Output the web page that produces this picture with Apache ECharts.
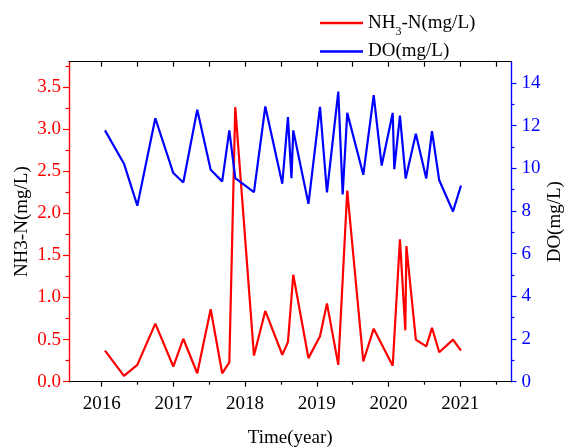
<!DOCTYPE html>
<html>
<head>
<meta charset="utf-8">
<script src="https://cdn.jsdelivr.net/npm/echarts@6/dist/echarts.min.js"></script>
<style>
  html, body { margin: 0; padding: 0; background: #fff; }
  #main { width: 564px; height: 447px; }
</style>
</head>
<body>
<div id="main"></div>
<script>
// 时间（年，小数表示）
const nh3Time = [2016.046, 2016.311, 2016.497, 2016.748, 2016.999, 2017.138, 2017.333, 2017.520, 2017.681, 2017.780,
  2017.863, 2018.124, 2018.282, 2018.519, 2018.598, 2018.672, 2018.884, 2019.045, 2019.142, 2019.300,
  2019.425, 2019.649, 2019.794, 2020.059, 2020.160, 2020.235, 2020.250, 2020.382, 2020.527, 2020.607,
  2020.708, 2020.900, 2021.011]
const nh3Values = [0.37, 0.07, 0.20, 0.69, 0.18, 0.51, 0.10, 0.86, 0.10, 0.23,
  3.26, 0.31, 0.84, 0.32, 0.47, 1.27, 0.28, 0.54, 0.93, 0.20,
  2.27, 0.24, 0.63, 0.19, 1.69, 0.61, 1.61, 0.50, 0.42, 0.64,
  0.35, 0.50, 0.37]

const doTime = [2016.046, 2016.311, 2016.497, 2016.748, 2016.999, 2017.138, 2017.333, 2017.520, 2017.681, 2017.780,
  2017.863, 2018.124, 2018.282, 2018.519, 2018.598, 2018.647, 2018.672, 2018.884, 2019.045, 2019.142,
  2019.300, 2019.361, 2019.425, 2019.649, 2019.794, 2019.905, 2020.059, 2020.081, 2020.160, 2020.240,
  2020.382, 2020.527, 2020.607, 2020.708, 2020.900, 2021.011]
const doValues = [11.78, 10.22, 8.25, 12.35, 9.78, 9.34, 12.75, 9.94, 9.39, 11.78,
  9.54, 8.89, 12.90, 9.28, 12.40, 9.54, 11.78, 8.34, 12.88, 8.87,
  13.60, 8.78, 12.60, 9.70, 13.43, 10.13, 12.60, 9.96, 12.47, 9.52,
  11.62, 9.52, 11.74, 9.44, 7.98, 9.19]

// 刻度
const yearLabels = [2016, 2017, 2018, 2019, 2020, 2021]
const halfYearTicks = [2016.5, 2017.5, 2018.5, 2019.5, 2020.5, 2021.5]
const allHalfTicks = [2016, 2016.5, 2017, 2017.5, 2018, 2018.5, 2019, 2019.5, 2020, 2020.5, 2021, 2021.5]
const leftMajor = [0, 0.5, 1, 1.5, 2, 2.5, 3, 3.5]
const leftMinor = [0.25, 0.75, 1.25, 1.75, 2.25, 2.75, 3.25, 3.75]
const rightMajor = [0, 2, 4, 6, 8, 10, 12, 14]
const rightMinor = [1, 3, 5, 7, 9, 11, 13]

const font = 'Liberation Serif'
const xMin = 2015.544
const xMax = 2021.716

const myChart = echarts.init(document.getElementById('main'))

const option = {
  animation: false,
  textStyle: { fontFamily: font },
  grid: { left: 69, right: 52.5, top: 61.7, bottom: 65.3, outerBoundsMode: 'none', containLabel: false },
  legend: {
    orient: 'vertical',
    left: 320,
    top: 12,
    padding: 0,
    itemWidth: 43,
    itemHeight: 2.5,
    itemGap: 2.5,
    icon: 'rect',
    data: ['NH3-N(mg/L)', 'DO(mg/L)'],
    formatter: function (name) {
      if (name === 'NH3-N(mg/L)') return '{a|NH}{s|3}{a|-N(mg/L)}'
      return '{a|' + name + '}'
    },
    textStyle: {
      color: '#000',
      fontFamily: font,
      fontSize: 19,
      lineHeight: 22,
      rich: {
        a: { fontFamily: font, fontSize: 19, lineHeight: 22, color: '#000' },
        s: { fontFamily: font, fontSize: 12, lineHeight: 22, color: '#000', verticalAlign: 'bottom', padding: [0, 0, -4, 0] }
      }
    }
  },
  xAxis: [
    {
      type: 'value', min: xMin, max: xMax, position: 'bottom',
      name: 'Time(year)', nameLocation: 'middle', nameGap: 47,
      nameTextStyle: { fontFamily: font, fontSize: 19, color: '#000' },
      axisLine: { show: true, onZero: false, lineStyle: { color: '#000', width: 1.2 } },
      axisTick: { show: true, customValues: yearLabels, length: 5, lineStyle: { color: '#000', width: 1.2 } },
      axisLabel: {
        customValues: yearLabels, margin: 13, fontFamily: font, fontSize: 19, color: '#000',
        formatter: function (v) { return String(v) }
      },
      splitLine: { show: false }
    },
    {
      type: 'value', min: xMin, max: xMax, position: 'bottom',
      axisLine: { show: true, onZero: false, lineStyle: { color: '#000', width: 1.2 } },
      axisTick: { show: true, customValues: halfYearTicks, length: 3, lineStyle: { color: '#000', width: 1.2 } },
      axisLabel: { show: false },
      splitLine: { show: false }
    },
    {
      type: 'value', min: xMin, max: xMax, position: 'top',
      axisLine: { show: true, onZero: false, lineStyle: { color: '#000', width: 1.2 } },
      axisTick: { show: true, customValues: allHalfTicks, inside: true, length: 5, lineStyle: { color: '#000', width: 1.2 } },
      axisLabel: { show: false },
      splitLine: { show: false }
    }
  ],
  yAxis: [
    {
      type: 'value', min: 0, max: 3.8, position: 'left',
      name: 'NH3-N(mg/L)', nameLocation: 'middle', nameGap: 37, nameMoveOverlap: false,
      nameTextStyle: { fontFamily: font, fontSize: 19, color: '#000' },
      axisLine: { show: true, onZero: false, lineStyle: { color: '#ff0000', width: 1.2 } },
      axisTick: { show: true, customValues: leftMajor, length: 6, lineStyle: { color: '#ff0000', width: 1.2 } },
      axisLabel: {
        customValues: leftMajor, margin: 8, fontFamily: font, fontSize: 19, color: '#ff0000',
        formatter: function (v) { return v.toFixed(1) }
      },
      splitLine: { show: false }
    },
    {
      type: 'value', min: 0, max: 3.8, position: 'left',
      axisLine: { show: true, onZero: false, lineStyle: { color: '#ff0000', width: 1.2 } },
      axisTick: { show: true, customValues: leftMinor, length: 3.5, lineStyle: { color: '#ff0000', width: 1.2 } },
      axisLabel: { show: false },
      splitLine: { show: false }
    },
    {
      type: 'value', min: 0, max: 15, position: 'right',
      name: 'DO(mg/L)', nameLocation: 'middle', nameGap: 34, nameMoveOverlap: false,
      nameTextStyle: { fontFamily: font, fontSize: 19, color: '#000' },
      axisLine: { show: true, onZero: false, lineStyle: { color: '#0000ff', width: 1.2 } },
      axisTick: { show: true, customValues: rightMajor, length: 5, lineStyle: { color: '#0000ff', width: 1.2 } },
      axisLabel: { customValues: rightMajor, margin: 10, fontFamily: font, fontSize: 19, color: '#0000ff' },
      splitLine: { show: false }
    },
    {
      type: 'value', min: 0, max: 15, position: 'right',
      axisLine: { show: true, onZero: false, lineStyle: { color: '#0000ff', width: 1.2 } },
      axisTick: { show: true, customValues: rightMinor, length: 3, lineStyle: { color: '#0000ff', width: 1.2 } },
      axisLabel: { show: false },
      splitLine: { show: false }
    }
  ],
  series: [
    {
      name: 'NH3-N(mg/L)',
      type: 'line',
      xAxisIndex: 0,
      yAxisIndex: 0,
      symbol: 'none',
      color: '#ff0000',
      lineStyle: { color: '#ff0000', width: 2.2 },
      data: nh3Time.map((t, i) => [t, nh3Values[i]])
    },
    {
      name: 'DO(mg/L)',
      type: 'line',
      xAxisIndex: 0,
      yAxisIndex: 2,
      symbol: 'none',
      color: '#0000ff',
      lineStyle: { color: '#0000ff', width: 2.2 },
      data: doTime.map((t, i) => [t, doValues[i]])
    }
  ]
}
myChart.setOption(option)
</script>
</body>
</html>
